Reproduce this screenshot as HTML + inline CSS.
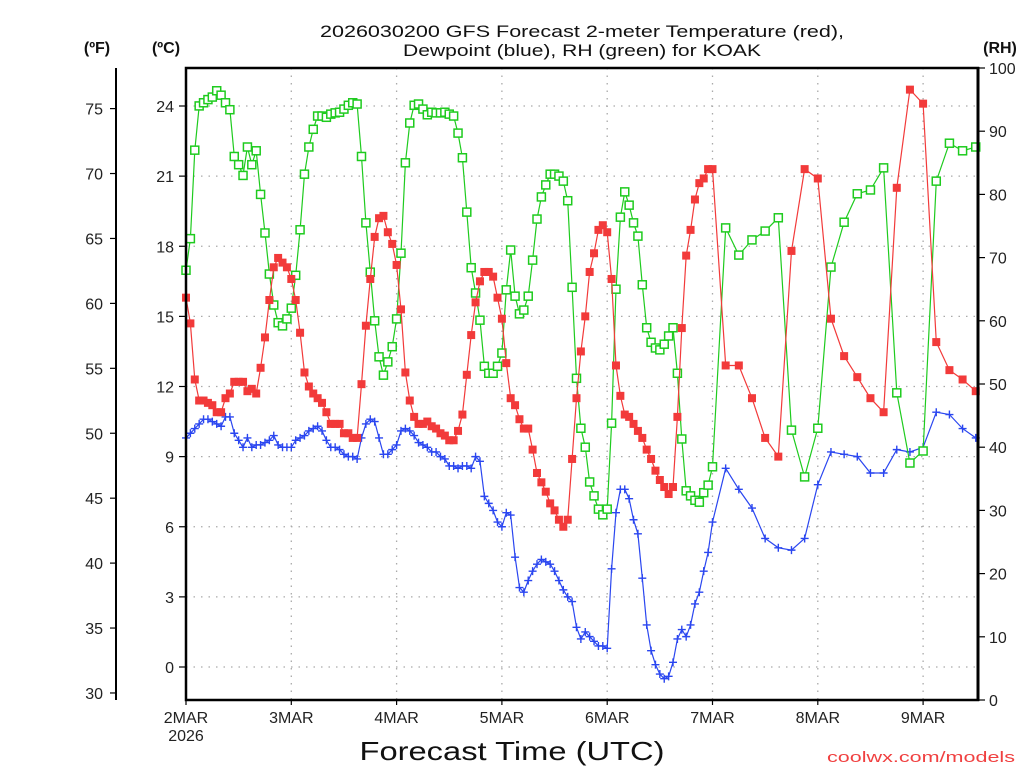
<!DOCTYPE html>
<html><head><meta charset="utf-8">
<style>
html,body{margin:0;padding:0;background:#fff;}
svg{display:block;font-family:"Liberation Sans",sans-serif;}
</style></head>
<body>
<svg id="chart" width="1024" height="768" viewBox="0 0 1024 768" xmlns="http://www.w3.org/2000/svg">
  <rect x="0" y="0" width="1024" height="768" fill="#fff"/>
  <g id="grid"></g>
  <g id="series"></g>
  <g id="axes"></g>
  <text x="582" y="37" text-anchor="middle" font-size="17" fill="#111" textLength="524" lengthAdjust="spacingAndGlyphs">2026030200 GFS Forecast 2-meter Temperature (red),</text>
  <text x="582" y="56" text-anchor="middle" font-size="17" fill="#111" textLength="358" lengthAdjust="spacingAndGlyphs">Dewpoint (blue), RH (green) for KOAK</text>
  <text x="97" y="53" text-anchor="middle" font-size="16" font-weight="bold" fill="#111">(ºF)</text>
  <text x="166" y="53" text-anchor="middle" font-size="16" font-weight="bold" fill="#111">(ºC)</text>
  <text x="1000" y="53" text-anchor="middle" font-size="16" font-weight="bold" fill="#111">(RH)</text>
  <text x="512" y="760" text-anchor="middle" font-size="26" fill="#111" textLength="305" lengthAdjust="spacingAndGlyphs">Forecast Time (UTC)</text>
  <text x="921" y="762" text-anchor="middle" font-size="15" fill="#f04040" textLength="188" lengthAdjust="spacingAndGlyphs">coolwx.com/models</text>
</svg>
<script>
// ---- data ----
const dayLabels = ["2MAR","3MAR","4MAR","5MAR","6MAR","7MAR","8MAR","9MAR"];
const celsiusTicks = [0,3,6,9,12,15,18,21,24];
const fahrenheitTicks = [30,35,40,45,50,55,60,65,70,75];
const rhTicks = [0,10,20,30,40,50,60,70,80,90,100];
const hours = [];
for (let h = 0; h <= 120; h++) hours.push(h);
for (let h = 123; h <= 180; h += 3) hours.push(h);
const tempC = [15.8,14.7,12.3,11.4,11.4,11.3,11.2,10.9,10.9,11.5,11.7,12.2,12.2,12.2,11.8,11.9,11.7,12.8,14.1,15.7,17.1,17.5,17.3,17.1,16.6,15.7,14.3,12.6,12.0,11.7,11.5,11.3,10.9,10.4,10.4,10.4,10.0,10.0,9.8,9.8,
12.1,14.6,16.6,18.4,19.2,19.3,18.6,18.1,17.2,15.3,12.6,11.4,10.7,10.4,10.4,10.5,10.3,10.2,10.0,9.9,9.7,9.7,10.1,10.8,12.5,14.2,15.6,16.5,16.9,16.9,16.7,15.8,14.9,13.0,11.5,11.2,10.6,10.2,10.2,9.3,
8.3,7.9,7.5,7.0,6.7,6.3,6.0,6.3,8.9,11.5,13.5,15.0,16.9,17.7,18.7,18.9,18.6,16.6,12.9,11.6,10.8,10.7,10.4,10.1,9.8,9.3,8.9,8.4,8.0,7.7,7.4,7.7,10.7,14.5,17.6,18.7,20.0,20.7,20.9,21.3,21.3,
12.9,12.9,11.5,9.8,9.0,17.8,21.3,20.9,14.9,13.3,12.4,11.5,10.9,20.5,24.7,24.1,13.9,12.7,12.3,11.8];
const dewpointC = [9.8,10.0,10.2,10.4,10.6,10.6,10.5,10.4,10.3,10.7,10.7,10.0,9.7,9.4,9.8,9.4,9.5,9.5,9.6,9.7,9.9,9.5,9.4,9.4,9.4,9.7,9.8,9.9,10.1,10.2,10.3,10.1,9.7,9.4,9.4,9.3,9.1,9.0,9.0,8.9,
9.8,10.4,10.6,10.5,9.8,9.1,9.1,9.3,9.5,10.1,10.2,10.1,9.9,9.6,9.5,9.4,9.2,9.2,9.0,8.9,8.6,8.6,8.5,8.6,8.6,8.5,9.0,8.8,7.3,7.0,6.7,6.2,6.0,6.6,6.5,4.7,3.4,3.2,3.7,4.1,
4.4,4.6,4.5,4.4,4.1,3.7,3.3,3.0,2.8,1.7,1.2,1.5,1.3,1.1,0.9,0.9,0.8,4.2,6.6,7.6,7.6,7.2,6.3,5.7,3.8,1.8,0.7,0.1,-0.3,-0.5,-0.4,0.2,1.2,1.6,1.3,1.8,2.7,3.2,4.1,4.9,6.2,
8.5,7.6,6.8,5.5,5.1,5.0,5.5,7.8,9.2,9.1,9.0,8.3,8.3,9.3,9.2,9.4,10.9,10.8,10.2,9.8];
const rhPct = [68,73,87,94,94.5,95,95.4,96.4,95.7,94.5,93.4,86,84.7,83,87.5,84.7,86.9,80,73.9,67.4,62.5,59.7,59.2,60.3,62,67.2,74.4,83.2,87.5,90.3,92.4,92.4,92.2,92.7,92.9,93,93.5,94.1,94.5,94.3,
86,75.5,67.7,60,54.3,51.4,53.5,55.9,60.3,70.7,85,91.3,94.1,94.3,93.5,92.6,93,92.9,92.9,93,92.7,92.4,89.7,85.8,77.2,68.4,64.4,60.1,52.8,51.7,51.7,52.8,54.9,64.9,71.2,63.9,61.1,61.7,63.9,69.6,
76.1,79.6,81.5,83.2,83.2,82.9,82.1,79,65.3,50.9,43,40,34.5,32.3,30.2,29.3,30.2,43.8,65,76.4,80.4,78.3,75.5,73.4,65.7,58.9,56.6,55.7,55.4,56.3,57.6,58.9,51.7,41.3,33.1,32.3,31.6,31.3,32.8,34,36.9,
74.7,70.4,72.8,74.2,76.3,42.7,35.3,43,68.5,75.6,80.1,80.7,84.2,48.6,37.5,39.4,82.1,88.1,86.9,87.5];

// ---- axes functions ----
const X0 = 186, X1 = 978, Y0 = 700, YT = 68;
const PX_PER_DAY = 105.3;
const xH = h => X0 + h / 24 * PX_PER_DAY;
const yC = c => 667 - c * 23.375;
const yF = f => yC((f - 32) * 5 / 9);
const yRH = r => Y0 - r * (Y0 - YT) / 100;

const NS = "http://www.w3.org/2000/svg";
function mk(tag, attrs, parent) {
  const e = document.createElementNS(NS, tag);
  for (const k in attrs) e.setAttribute(k, attrs[k]);
  parent.appendChild(e);
  return e;
}
const grid = document.getElementById("grid");
const axes = document.getElementById("axes");
const series = document.getElementById("series");
const lbl = {"font-size": 16, fill: "#222"};

// gridlines
celsiusTicks.forEach(c => {
  const g = mk("line", {x1: X0, x2: X1, y1: yC(c), y2: yC(c), stroke: "#aaa", "stroke-width": 1.3, "stroke-dasharray": "1.5 6"}, grid);
  
  
});
dayLabels.forEach((d, i) => {
  const x = xH(i * 24);
  if (i > 0) {
    const g = mk("line", {x1: x, x2: x, y1: YT, y2: Y0, stroke: "#aaa", "stroke-width": 1.3, "stroke-dasharray": "1.5 6"}, grid);
    
    
  }
});

// frame
const frame = mk("path", {d: `M${X0},${YT} H${X1} V${Y0} H${X0} Z`, fill: "none", stroke: "#000", "stroke-width": 2.5}, axes);


const rAxis = mk("line", {x1: X1, x2: X1, y1: YT - 1, y2: Y0 + 1, stroke: "#000", "stroke-width": 3}, axes);


const fAxis = mk("line", {x1: 116, x2: 116, y1: YT, y2: Y0, stroke: "#000", "stroke-width": 2}, axes);



// fahrenheit ticks
fahrenheitTicks.forEach(f => {
  const y = yF(f);
  const t = mk("line", {x1: 110, x2: 116, y1: y, y2: y, stroke: "#000", "stroke-width": 1.2}, axes);
  
  
  const tx = mk("text", Object.assign({x: 103, y: y + 6, "text-anchor": "end"}, lbl), axes);
  tx.textContent = f;
  
  
});
// celsius ticks
celsiusTicks.forEach(c => {
  const y = yC(c);
  const t = mk("line", {x1: 179, x2: 186, y1: y, y2: y, stroke: "#000", "stroke-width": 1.2}, axes);
  
  
  const tx = mk("text", Object.assign({x: 174, y: y + 6, "text-anchor": "end"}, lbl), axes);
  tx.textContent = c;
  
  
});
// rh ticks
rhTicks.forEach(r => {
  const y = yRH(r);
  const t = mk("line", {x1: 978, x2: 985, y1: y, y2: y, stroke: "#000", "stroke-width": 1.2}, axes);
  
  
  const tx = mk("text", Object.assign({x: 989, y: y + 6, "text-anchor": "start"}, lbl), axes);
  tx.textContent = r;
  
  
});
// day ticks
dayLabels.forEach((d, i) => {
  const x = xH(i * 24);
  const t = mk("line", {x1: x, x2: x, y1: Y0, y2: Y0 + 5, stroke: "#000", "stroke-width": 1.2}, axes);
  
  
  const tx = mk("text", Object.assign({x: x, y: 723, "text-anchor": "middle"}, lbl), axes);
  tx.textContent = d;
  
  
});
const yr = mk("text", Object.assign({x: xH(0), y: 741, "text-anchor": "middle"}, lbl), axes);
yr.textContent = "2026";



// series
function drawSeries(vals, yf, color, kind, name) {
  const g = mk("g", {}, series);
  
  
  const pts = vals.map((v, i) => [xH(hours[i]), yf(v)]);
  const pl = mk("polyline", {points: pts.map(p => p[0].toFixed(1) + "," + p[1].toFixed(1)).join(" "), fill: "none", stroke: color, "stroke-width": 1.2}, g);
  
  
  pts.forEach(p => {
    let m;
    if (kind === "filled") {
      m = mk("rect", {x: p[0] - 4, y: p[1] - 4, width: 8, height: 8, fill: color}, g);
    } else if (kind === "open") {
      m = mk("rect", {x: p[0] - 4, y: p[1] - 4, width: 8, height: 8, fill: "#fff", stroke: color, "stroke-width": 1.5}, g);
    } else {
      m = mk("path", {d: `M${p[0] - 4},${p[1]} h8 M${p[0]},${p[1] - 4} v8`, stroke: color, "stroke-width": 1.4}, g);
    }
    
    
  });
}
drawSeries(dewpointC, yC, "#2a46f0", "plus", "dewpoint");
drawSeries(rhPct, yRH, "#1ecb1e", "open", "rh");
drawSeries(tempC, yC, "#f23a3a", "filled", "temperature");
</script>
</body></html>
